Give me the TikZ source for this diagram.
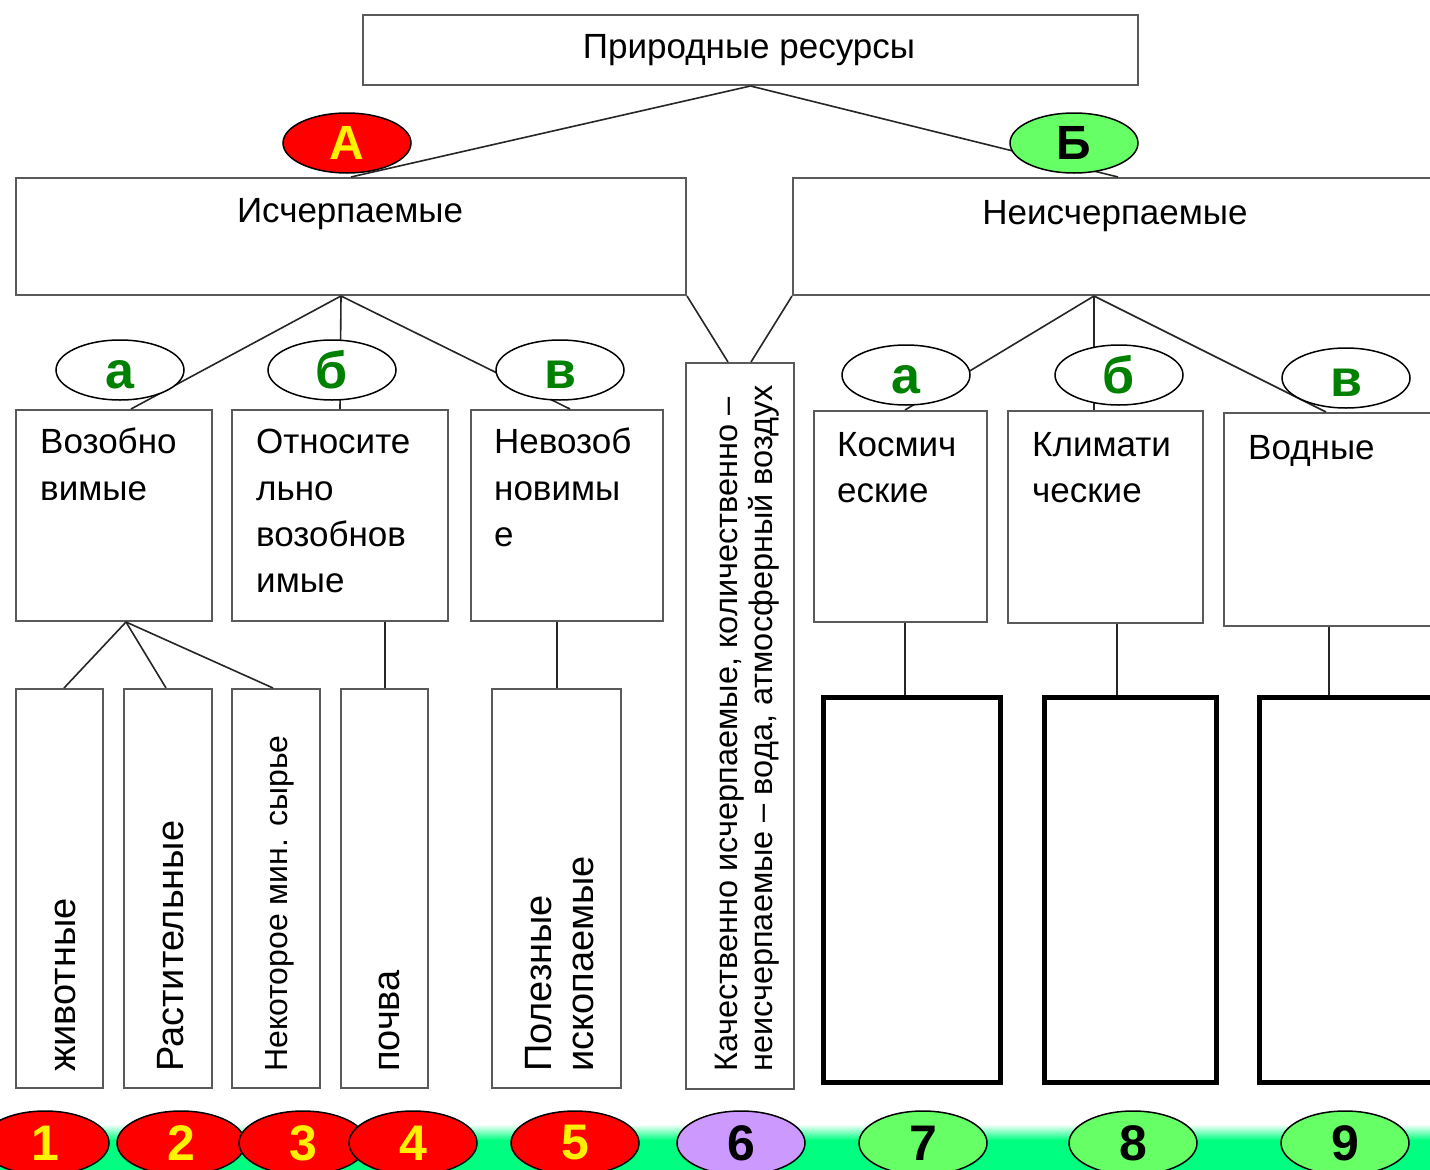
\documentclass[tikz,border=0pt]{standalone}
\usepackage{fontspec}
\setmainfont{Liberation Sans}
\usetikzlibrary{shapes.geometric}
\definecolor{lg}{RGB}{102,255,102}
\definecolor{gl}{RGB}{0,128,0}
\definecolor{lav}{RGB}{204,153,255}
\definecolor{strip}{RGB}{0,255,128}
\definecolor{bx}{RGB}{90,90,90}
\newcommand\fsz[1]{\fontsize{#1}{#1}\selectfont}
\newcommand\dn[1]{\raisebox{-5pt}[0.52em][0pt]{#1}}
\begin{document}
\begin{tikzpicture}[x=1pt,y=-1pt,
  box/.style={draw=bx, line width=2pt, fill=white, inner sep=0pt, anchor=north west},
  hvy/.style={draw=black, line width=5pt, fill=white, inner sep=0pt, anchor=north west},
  conn/.style={draw=black!85, line width=1.6pt},
  lbl/.style={inner sep=0pt, anchor=base west, font=\fsz{35}},
  vlbl/.style={inner sep=0pt, rotate=90, anchor=base west, font=\fsz{38}},
  oval/.style={ellipse, draw=black, line width=1.5pt, minimum width=128pt, minimum height=60pt, inner sep=0pt},
  redov/.style={oval, fill=red, text=yellow, font=\fsz{48}\bfseries},
  grov/.style={oval, fill=lg, text=black, font=\fsz{48}\bfseries},
  wov/.style={oval, fill=white, text=gl, font=\fsz{52}\bfseries},
  numred/.style={redov, minimum height=64pt, font=\fsz{50}\bfseries},
  numgr/.style={grov, minimum height=64pt, font=\fsz{50}\bfseries},
  numlav/.style={oval, fill=lav, text=black, minimum height=64pt, font=\fsz{50}\bfseries}]
\useasboundingbox (0,0) rectangle (1430,1170);
\clip (0,0) rectangle (1430,1170);
\fill[white] (0,0) rectangle (1430,1170);
% bottom strip
\shade[top color=white, bottom color=strip] (0,1124) rectangle (1430,1140);
\fill[strip] (0,1140) rectangle (1430,1170);

% boxes
\node[box, minimum width=775pt, minimum height=70pt] (root) at (362,14) {};
\node[box, minimum width=670pt, minimum height=117pt] (exh) at (15,177) {};
\node[box, minimum width=650pt, minimum height=117pt] (inex) at (792,177) {};
\node[box, minimum width=108pt, minimum height=726pt] (mid) at (685,362) {};

\node[box, minimum width=196pt, minimum height=211pt] (ren) at (15,409) {};
\node[box, minimum width=216pt, minimum height=211pt] (rel) at (231,409) {};
\node[box, minimum width=192pt, minimum height=211pt] (non) at (470,409) {};

\node[box, minimum width=87pt, minimum height=399pt] (an) at (15,688) {};
\node[box, minimum width=88pt, minimum height=399pt] (pl) at (123,688) {};
\node[box, minimum width=88pt, minimum height=399pt] (mn) at (231,688) {};
\node[box, minimum width=87pt, minimum height=399pt] (so) at (340,688) {};
\node[box, minimum width=129pt, minimum height=399pt] (mi) at (491,688) {};

\node[box, minimum width=173pt, minimum height=211pt] (cos) at (813,410) {};
\node[box, minimum width=195pt, minimum height=212pt] (cli) at (1007,410) {};
\node[box, minimum width=220pt, minimum height=213pt] (wat) at (1223,412) {};

\node[hvy, minimum width=177pt, minimum height=385pt] (b7) at (821,695) {};
\node[hvy, minimum width=172pt, minimum height=385pt] (b8) at (1042,695) {};
\node[hvy, minimum width=185pt, minimum height=385pt] (b9) at (1257,695) {};

% texts
\node[lbl, anchor=base] (rootT) at (749,58) {Природные ресурсы};
\node[lbl, anchor=base] (exhT) at (350,222) {Исчерпаемые};
\node[lbl, anchor=base] (inexT) at (1115,224) {Неисчерпаемые};

\node[lbl] (ren1) at (40,453) {Возобно};
\node[lbl] (ren2) at (40,500) {вимые};
\node[lbl] (rel1) at (256,453) {Относите};
\node[lbl] (rel2) at (256,500) {льно};
\node[lbl] (rel3) at (256,546) {возобнов};
\node[lbl] (rel4) at (256,592) {имые};
\node[lbl] (non1) at (494,453) {Невозоб};
\node[lbl] (non2) at (494,500) {новимы};
\node[lbl] (non3) at (494,546) {е};
\node[lbl] (cos1) at (837,456) {Космич};
\node[lbl] (cos2) at (837,502) {еские};
\node[lbl] (cli1) at (1032,456) {Климати};
\node[lbl] (cli2) at (1032,502) {ческие};
\node[lbl] (wat1) at (1248,459) {Водные};

\node[vlbl] (anT) at (75,1072) {животные};
\node[vlbl] (plT) at (183,1072) {Растительные};
\node[vlbl, font=\fsz{32}] (mnT) at (287,1072) {Некоторое мин. сырье};
\node[vlbl] (soT) at (399,1072) {почва};
\node[vlbl] (miT1) at (551,1072) {Полезные};
\node[vlbl] (miT2) at (593,1072) {ископаемые};
\node[vlbl, font=\fsz{32.5}] (midT1) at (737,1072) {Качественно исчерпаемые, количественно –};
\node[vlbl, font=\fsz{32.5}] (midT2) at (772,1072) {неисчерпаемые – вода, атмосферный воздух};

% connectors
\draw[conn] (root.south) -- (exh.north);
\draw[conn] (root.south) -- (inex.north);
\draw[conn] (exh.south east) -- ([xshift=-12pt]mid.north);
\draw[conn] (inex.south west) -- ([xshift=11pt]mid.north);
\draw[conn] ([xshift=-10pt]exh.south) -- ([xshift=17pt]ren.north);
\draw[conn] ([xshift=-10pt]exh.south) -- (rel.north);
\draw[conn] ([xshift=-10pt]exh.south) -- ([xshift=3pt]non.north);
\draw[conn] ([xshift=-24pt]inex.south) -- ([xshift=4.5pt]cos.north);
\draw[conn] ([xshift=-24pt]inex.south) -- ([xshift=-11.5pt]cli.north);
\draw[conn] ([xshift=-24pt]inex.south) -- ([xshift=-8pt]wat.north);
\draw[conn] ([xshift=12pt]ren.south) -- ([xshift=4.5pt]an.north);
\draw[conn] ([xshift=12pt]ren.south) -- ([xshift=-2pt]pl.north);
\draw[conn] ([xshift=12pt]ren.south) -- ([xshift=-3pt]mn.north);
\draw[conn] ([xshift=45pt]rel.south) -- ([xshift=45pt]rel.south |- so.north);
\draw[conn] ([xshift=-10pt]non.south) -- ([xshift=-10pt]non.south |- mi.north);
\draw[conn] ([xshift=4.5pt]cos.south) -- ([xshift=4.5pt]cos.south |- b7.north);
\draw[conn] ([xshift=11.5pt]cli.south) -- ([xshift=11.5pt]cli.south |- b8.north);
\draw[conn] ([xshift=-5pt]wat.south) -- ([xshift=-5pt]wat.south |- b9.north);

% ovals
\node[redov] (A) at (347,143) {А};
\node[grov] (B) at (1074,143) {Б};
\node[wov] (la) at (120,370) {\dn{а}};
\node[wov] (lb) at (332,370) {б};
\node[wov] (lv) at (560,370) {\dn{в}};
\node[wov] (ra) at (906,375) {\dn{а}};
\node[wov] (rb) at (1119,375) {б};
\node[wov] (rv) at (1346,378) {\dn{в}};

% numbers
\node[numred] (n1) at (45,1143) {1};
\node[numred] (n2) at (181,1143) {2};
\node[numred] (n3) at (303,1143) {3};
\node[numred] (n4) at (413,1143) {4};
\node[numred] (n5) at (575,1143) {5};
\node[numlav] (n6) at (741,1143) {6};
\node[numgr] (n7) at (923,1143) {7};
\node[numgr] (n8) at (1133,1143) {8};
\node[numgr] (n9) at (1345,1143) {9};
\end{tikzpicture}
\end{document}
